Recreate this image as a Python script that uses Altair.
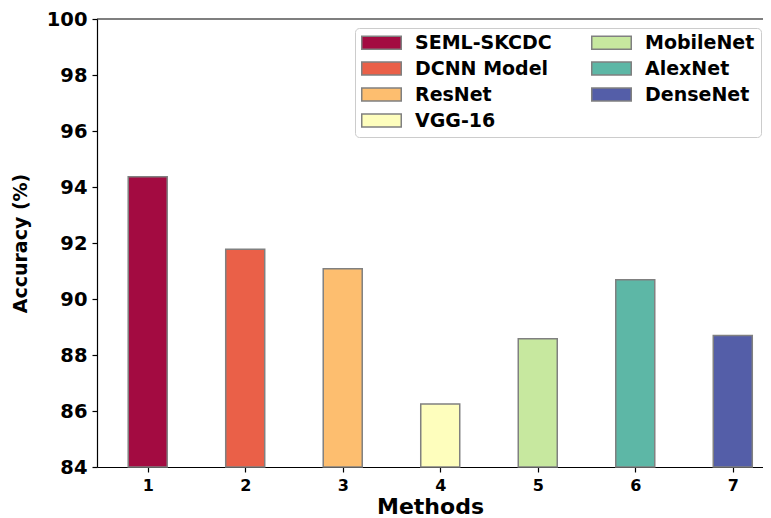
import altair as alt
import pandas as pd

methods = [1, 2, 3, 4, 5, 6, 7]
names = ["SEML-SKCDC", "DCNN Model", "ResNet", "VGG-16", "MobileNet", "AlexNet", "DenseNet"]
accuracy = [94.37, 91.78, 91.08, 86.25, 88.58, 90.69, 88.70]
colors = ["#a30b41", "#ea6048", "#fdbe6f", "#fefebd", "#c7e89f", "#5db7a6", "#545ea8"]
y_ticks = [84, 86, 88, 90, 92, 94, 96, 98, 100]

df = pd.DataFrame({"method": methods, "name": names, "acc": accuracy})

FONT = "DejaVu Sans"
xscale = alt.Scale(domain=[0.48, 7.31], nice=False, zero=False)
yscale = alt.Scale(domain=[84, 100], nice=False, zero=False)

bars = alt.Chart(df).transform_calculate(
    x0="datum.method - 0.2", x1="datum.method + 0.2"
).mark_bar(stroke="#808080", strokeWidth=1.5).encode(
    x=alt.X("x0:Q", scale=xscale,
            axis=alt.Axis(values=methods, format="d", title="Methods", grid=False)),
    x2="x1:Q",
    y=alt.Y("acc:Q", scale=yscale,
            axis=alt.Axis(values=y_ticks, title="Accuracy (%)", grid=False)),
    y2=alt.datum(84),
    color=alt.Color("name:N", scale=alt.Scale(domain=names, range=colors), title=None,
                    legend=alt.Legend(
                        orient="none", legendX=258, legendY=9, columns=2,
                        symbolType="M-1,-0.333L1,-0.333L1,0.333L-1,0.333Z",
                        symbolSize=1560, symbolStrokeColor="#808080", symbolStrokeWidth=1.5,
                        symbolOpacity=1, clipHeight=17,
                        labelFont=FONT, labelFontWeight="bold", labelFontSize=19, labelColor="black",
                        labelOffset=13, rowPadding=6, columnPadding=39,
                        strokeColor="#cccccc", fillColor="white", cornerRadius=4, padding=6,
                        labelLimit=300)),
)

top_spine = alt.Chart(df).mark_rule(color="black", strokeWidth=1.2).encode(
    y=alt.datum(100, scale=yscale), x=alt.value(0), x2=alt.value("width")
).transform_filter("datum.method == 1")

chart = alt.layer(bars, top_spine).properties(
    width=666, height=448,
    autosize=alt.AutoSizeParams(type="none"),
    padding={"left": 89, "top": 11, "right": 0, "bottom": 51},
).configure_view(
    strokeWidth=0
).configure_axis(
    domainColor="black", domainWidth=1.2, tickColor="black", tickWidth=1.2, tickSize=5,
    labelFont=FONT, labelFontWeight="bold", labelColor="black",
    titleFont=FONT, titleFontWeight="bold", titleColor="black",
).configure_axisY(
    labelFontSize=19.5, labelPadding=5, titleFontSize=19, titlePadding=16,
).configure_axisX(
    labelFontSize=16, labelPadding=5, titleFontSize=22, titlePadding=3, labelAngle=0,
)

chart.save("out.html", embed_options={"renderer": "svg", "actions": False})
